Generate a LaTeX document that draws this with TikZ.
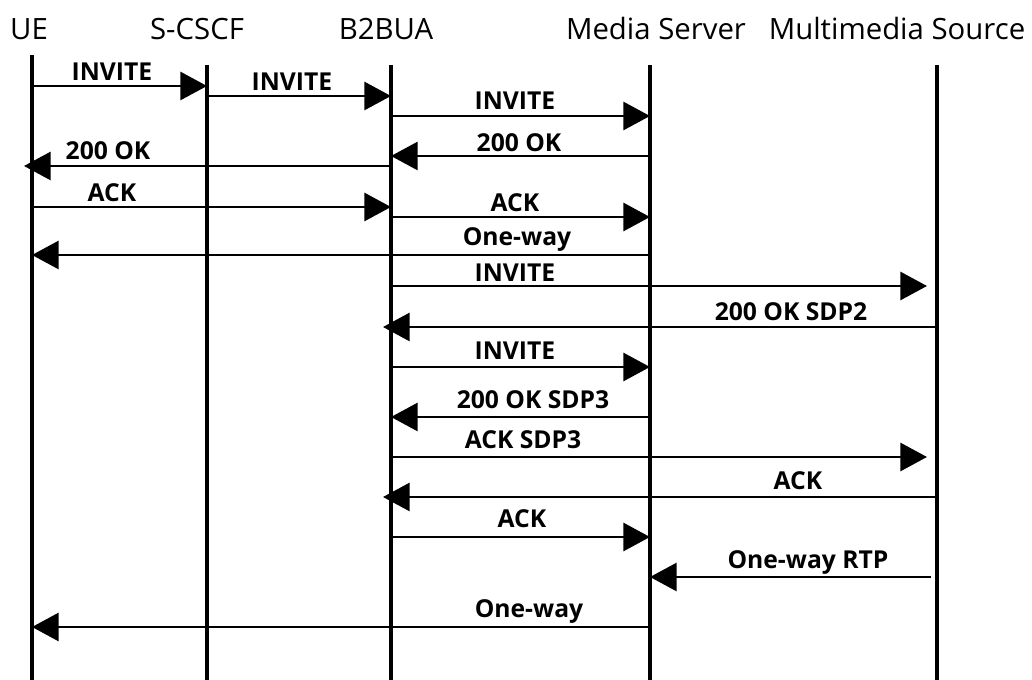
\documentclass[tikz,border=0pt]{standalone}
\usepackage{fontspec}
\setmainfont{Open Sans}
\usepackage{tikz}
\usetikzlibrary{arrows.meta}

\newcommand{\actorfont}{\fontsize{22}{26}\selectfont}
\newcommand{\msgfont}{\bfseries\fontsize{18.5}{22}\selectfont}

\begin{document}
\begin{tikzpicture}[
		x=0.75pt, y=-0.75pt,
		every node/.style={inner sep=0pt},
		actor/.style={anchor=base, font=\actorfont},
		msg_label/.style={anchor=base, font=\msgfont},
		lifeline/.style={line width=2.4pt},
		msg/.style={line width=2.2pt, -{Triangle[length=20pt, width=21pt]}}
	]
  \useasboundingbox (0,0) rectangle (1032,680);
  % actors
  \node (ue_label) [actor] at (29,40) {UE};
  \node (scscf_label) [actor] at (197,40) {S-CSCF};
  \node (b2bua_label) [actor] at (386,40) {B2BUA};
  \node (ms_label) [actor] at (656,40) {Media Server};
  \node (mms_label) [actor] at (897,40) {Multimedia Source};
  % lifelines
  \coordinate (ue) at (32,55);
  \coordinate (scscf) at (207,65);
  \coordinate (b2bua) at (391,65);
  \coordinate (ms) at (650,65);
  \coordinate (mms) at (937,65);
  \coordinate (ue_end) at (32,680);
  \coordinate (scscf_end) at (207,680);
  \coordinate (b2bua_end) at (391,680);
  \coordinate (ms_end) at (650,680);
  \coordinate (mms_end) at (937,680);
  \draw [lifeline] (ue) -- (ue_end);
  \draw [lifeline] (scscf) -- (scscf_end);
  \draw [lifeline] (b2bua) -- (b2bua_end);
  \draw [lifeline] (ms) -- (ms_end);
  \draw [lifeline] (mms) -- (mms_end);
  % messages
  \node (invite_1) [msg_label] at (112,81) {INVITE};
  \draw [msg] (ue |- 0,86) -- (scscf |- 0,86);
  \node (invite_2) [msg_label] at (292,91) {INVITE};
  \draw [msg] (scscf |- 0,96) -- (b2bua |- 0,96);
  \node (invite_3) [msg_label] at (515,110) {INVITE};
  \draw [msg] (b2bua |- 0,116) -- (ms |- 0,116);
  \node (ok_1) [msg_label] at (519,152) {200 OK};
  \draw [msg] (ms |- 0,156) -- (b2bua |- 0,156);
  \node (ok_2) [msg_label] at (108,160) {200 OK};
  \draw [msg] (b2bua |- 0,166) -- ([xshift=-6pt]ue |- 0,166);
  \node (ack_1) [msg_label] at (112,202) {ACK};
  \draw [msg] (ue |- 0,207) -- (b2bua |- 0,207);
  \node (ack_2) [msg_label] at (515,212) {ACK};
  \draw [msg] (b2bua |- 0,217) -- (ms |- 0,217);
  \node (oneway_1) [msg_label] at (517,246) {One-way};
  \draw [msg] (ms |- 0,255) -- (ue |- 0,255);
  \node (invite_4) [msg_label] at (515,282) {INVITE};
  \draw [msg] (b2bua |- 0,286) -- ([xshift=-7.5pt]mms |- 0,286);
  \node (ok_sdp2) [msg_label] at (791,321) {200 OK SDP2};
  \draw [msg] (mms |- 0,327) -- ([xshift=-6pt]b2bua |- 0,327);
  \node (invite_5) [msg_label] at (515,360) {INVITE};
  \draw [msg] (b2bua |- 0,367) -- (ms |- 0,367);
  \node (ok_sdp3) [msg_label] at (533,409) {200 OK SDP3};
  \draw [msg] (ms |- 0,417) -- (b2bua |- 0,417);
  \node (ack_sdp3) [msg_label] at (523,449) {ACK SDP3};
  \draw [msg] (b2bua |- 0,457) -- ([xshift=-7.5pt]mms |- 0,457);
  \node (ack_3) [msg_label] at (798,490) {ACK};
  \draw [msg] (mms |- 0,497) -- ([xshift=-6pt]b2bua |- 0,497);
  \node (ack_4) [msg_label] at (522,528) {ACK};
  \draw [msg] (b2bua |- 0,537) -- (ms |- 0,537);
  \node (rtp) [msg_label] at (808,569) {One-way RTP};
  \draw [msg] ([xshift=-4.5pt]mms |- 0,577) -- (ms |- 0,577);
  \node (oneway_2) [msg_label] at (529,618) {One-way};
  \draw [msg] (ms |- 0,627) -- (ue |- 0,627);
\end{tikzpicture}
\end{document}
